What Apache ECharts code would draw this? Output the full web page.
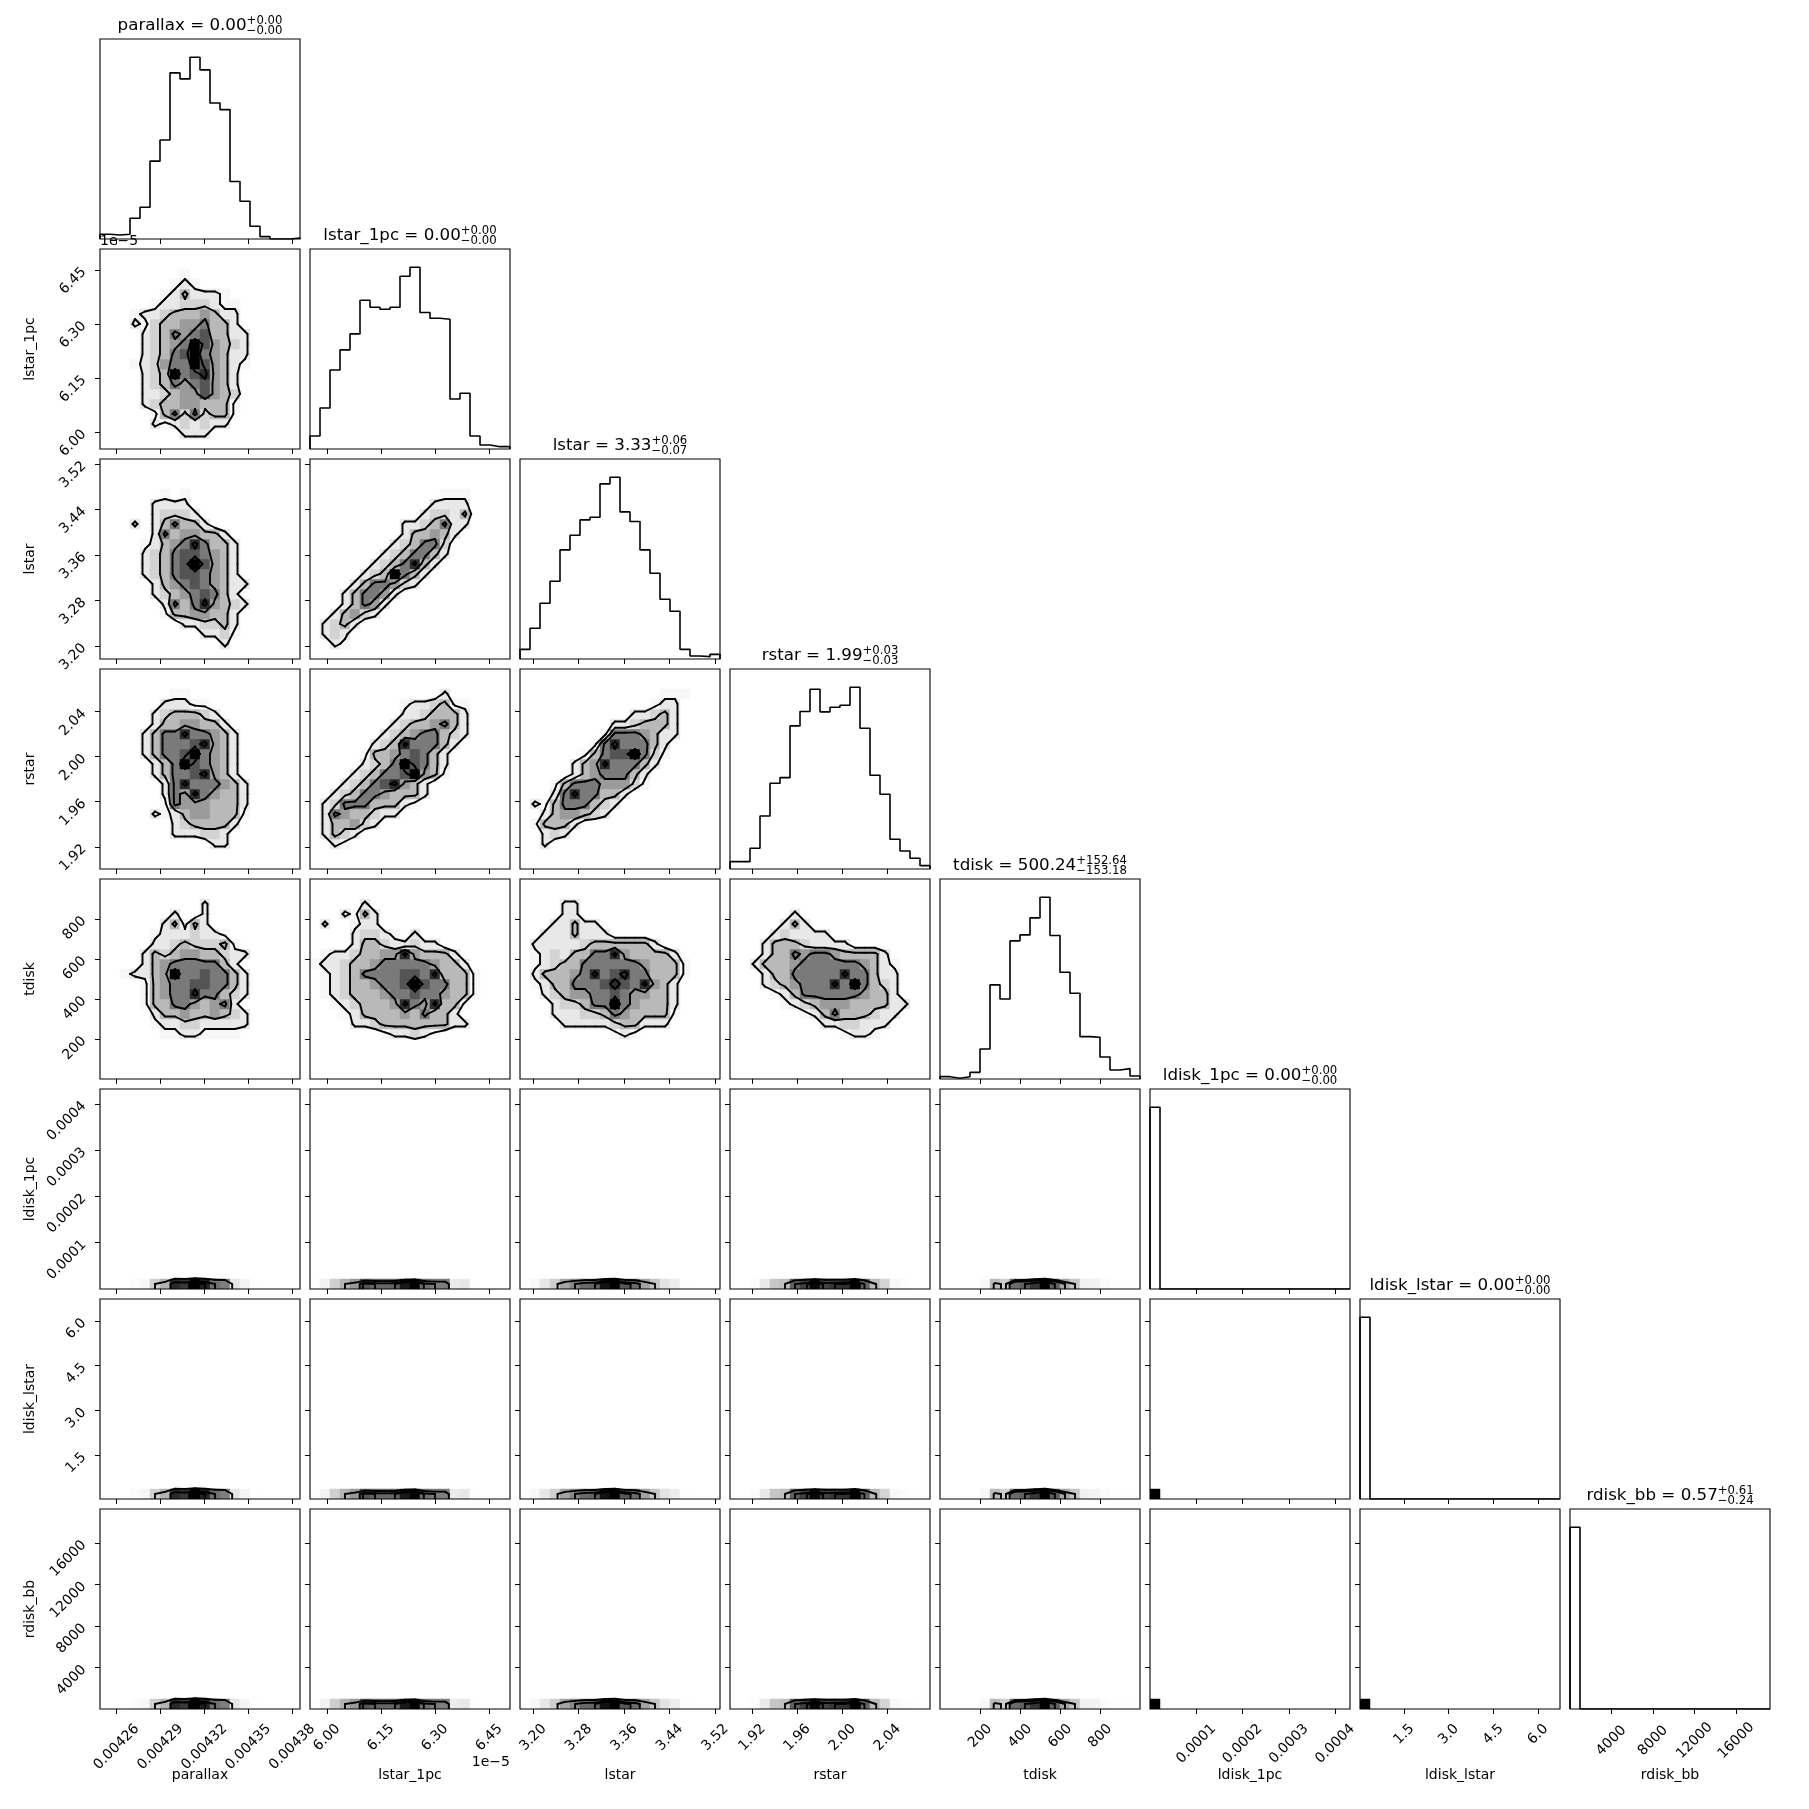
<!DOCTYPE html>
<html>
<head>
<meta charset="utf-8">
<title>corner plot</title>
<script src="https://cdn.jsdelivr.net/npm/echarts@6.0.0/dist/echarts.min.js"></script>
<style>html,body{margin:0;padding:0;background:#fff;}#chart{width:1809px;height:1809px;}</style>
</head>
<body>
<div id="chart"></div>
<script>
// ================= DATA =================
const params = ['parallax','lstar_1pc','lstar','rstar','tdisk','ldisk_1pc','ldisk_lstar','rdisk_bb'];
// axis ranges (lstar_1pc in units of 1e-5)
const axisMin = [0.0042487, 5.953, 3.177, 1.9003, -1, 0, 0.023, 30];
const axisMax = [0.0043853, 6.508, 3.5285, 2.0778, 999, 0.000432, 6.737, 19250];
const tickValues = [
  [0.00426,0.00429,0.00432,0.00435,0.00438],
  [6.00,6.15,6.30,6.45],
  [3.20,3.28,3.36,3.44,3.52],
  [1.92,1.96,2.00,2.04],
  [200,400,600,800],
  [0.0001,0.0002,0.0003,0.0004],
  [1.5,3.0,4.5,6.0],
  [4000,8000,12000,16000]
];
const tickLabels = [
  ['0.00426','0.00429','0.00432','0.00435','0.00438'],
  ['6.00','6.15','6.30','6.45'],
  ['3.20','3.28','3.36','3.44','3.52'],
  ['1.92','1.96','2.00','2.04'],
  ['200','400','600','800'],
  ['0.0001','0.0002','0.0003','0.0004'],
  ['1.5','3.0','4.5','6.0'],
  ['4000','8000','12000','16000']
];
const offsetText = '1e\u22125';
const titleMain = ['parallax = 0.00','lstar_1pc = 0.00','lstar = 3.33','rstar = 1.99','tdisk = 500.24','ldisk_1pc = 0.00','ldisk_lstar = 0.00','rdisk_bb = 0.57'];
const titleSup  = ['+0.00','+0.00','+0.06','+0.03','+152.64','+0.00','+0.00','+0.61'];
const titleSub  = ['\u22120.00','\u22120.00','\u22120.07','\u22120.03','\u2212153.18','\u22120.00','\u22120.00','\u22120.24'];

// 1D histograms (20 bins over the axis range, relative counts)
const hist_parallax    = [14,12,14,62,95,233,296,497,479,544,506,407,387,172,113,38,7,0,0,3];
const hist_lstar_1pc   = [39,123,237,297,345,446,425,419,425,518,545,409,392,389,150,167,39,12,7,7];
const hist_lstar       = [29,92,167,233,327,371,417,425,525,545,441,412,327,257,179,143,29,9,7,14];
const hist_rstar       = [22,22,62,159,257,274,429,472,539,471,485,491,545,422,281,224,89,54,32,10];
const hist_tdisk       = [7,2,7,20,90,282,240,414,432,483,545,430,320,257,127,125,66,27,31,9];
const hist_ldisk_1pc   = [545,0,0,0,0,0,0,0,0,0,0,0,0,0,0,0,0,0,0,0];
const hist_ldisk_lstar = [545,0,0,0,0,0,0,0,0,0,0,0,0,0,0,0,0,0,0,0];
const hist_rdisk_bb    = [545,0,0,0,0,0,0,0,0,0,0,0,0,0,0,0,0,0,0,0];

// 2D histograms (20x20 bins, density 0-9, top row first)
const dens_lstar1pc_parallax = [
"00000000000000000000","00000000000000000000","00000000100000000000","00000001210000000000",
"00000012422210000000","00000122333211000000","00012234445422000000","00021344556442000000",
"00002346567442200000","00002345697543200000","00002346796542200000","00012356697542100000",
"00002349678542000000","00002346567542000000","00002234557543000000","00002344554441000000",
"00000146363441000000","00000212323220000000","00000000222000000000","00000000000000000000"];
const dens_lstar_parallax = [
"00000000000000000000","00000000000000000000","00000000000000000000","00000010100000000000",
"00000222200000000000","00000233320000000000","00020246442000000000","00000264554420000000",
"00001245686442000000","00002346776542000000","00002346797542000000","00002346776542000000",
"00000245676542200000","00000234567642000000","00000026468543200000","00000014455442000000",
"00000000223342000000","00000000002231000000","00000000000020000000","00000000000000000000"];
const dens_lstar_lstar1pc = [
"00000000000000000000","00000000000000000000","00000000000000000000","00000000000001110000",
"00000000000022220000","00000000000233240000","00000000022346220000","00000000024454200000",
"00000000234663000000","00000002346642000000","00000023468420000000","00000234964200000000",
"00002466532000000000","00024665200000000000","00024652000000000000","00245320000000000000",
"02342000000000000000","02320000000000000000","00210000000000000000","00000000000000000000"];
const dens_rstar_parallax = [
"00000000000000000000","00000000000000000000","00000001100000000000","00000022211000000000",
"00000234443200000000","00000244554420000000","00002466866542000000","00002466678542000000",
"00002466796542000000","00000246976542000000","00000246678542000000","00000026866654200000",
"00000026586544200000","00000016555444200000","00000212455444100000","00000002344442000000",
"00000002223320000000","00000000000220000000","00000000000000000000","00000000000000000000"];
const dens_rstar_lstar1pc = [
"00000000000000000000","00000000000000000000","00000000000002000000","00000000012234110000",
"00000000022344420000","00000000234456420000","00000002345664320000","00000023486664200000",
"00000144567642000000","00000234697642000000","00002346679541000000","00023467854200000000",
"00234665444200000000","02366644421000000000","02654432200000000000","02445320000000000000",
"02432000000000000000","00210000000000000000","00000000000000000000","00000000000000000000"];
const dens_rstar_lstar = [
"00000000000000000000","00000000000000000000","00000000000000111000","00000000000001220000",
"00000000000223420000","00000000022344420000","00000000166654220000","00000001686664200000",
"00000014677963100000","00000245866642000000","00000245666420000000","00014666555310000000",
"00026866442000000000","02146664320000000000","00245543200000000000","01444200000000000000",
"00232000000000000000","00200000000000000000","00000000000000000000","00000000000000000000"];
const dens_tdisk_parallax = [
"00000000000000000000","00000000000000000000","00000000002000000000","00000002002000000000",
"00000024142000000000","00000122232210000000","00000223433341000000","00002434554432200000",
"00002456666642000000","00122459667664200000","00001456677664200000","00001456686643200000",
"00001446654562000000","00000244544543200000","00000122332222200000","00000011221111000000",
"00000000000000000000","00000000000000000000","00000000000000000000","00000000000000000000"];
const dens_tdisk_lstar1pc = [
"00000000000000000000","00000000000000000000","00000200000000000000","00021420000000000000",
"02001220000000000000","00002332102000000000","00002443223220000000","01223445585444200000",
"12234456666654420000","01234666677684441000","01234456679766441000","01234445667665441000",
"00123444586584410000","00012444454644200000","00002234444444220000","00000001223210000000",
"00000000000000000000","00000000000000000000","00000000000000000000","00000000000000000000"];
const dens_tdisk_lstar = [
"00000000000000000000","00000000000000000000","00002200000000000000","00002200000000000000",
"00022422000000000000","00222422200000000000","02222234444442000000","01232446685444420000",
"01234466666654441000","02444568678664441000","01244666787685420000","00234556676554420000",
"00023346696544420000","00022233465444410000","00002222234422200000","00000000012100000000",
"00000000000000000000","00000000000000000000","00000000000000000000","00000000000000000000"];
const dens_tdisk_rstar = [
"00000000000000000000","00000000000000000000","00000000000000000000","00000020000000000000",
"00000242000000000000","00002322220000000000","00024443222200000000","00024465665444420000",
"00244456666665421000","00024466666866422000","00023456668696432000","00001246666665442000",
"00000123455544442200","00000001246444322000","00000000022332220000","00000000000122100000",
"00000000000000000000","00000000000000000000","00000000000000000000","00000000000000000000"];
const handLevels = [1.5, 3.5, 5.5, 7.5];
const handMax = 9;

// ================= BUILD =================
const histByParam = [hist_parallax,hist_lstar_1pc,hist_lstar,hist_rstar,hist_tdisk,hist_ldisk_1pc,hist_ldisk_lstar,hist_rdisk_bb];
const handGrids = {
  '1_0': dens_lstar1pc_parallax, '2_0': dens_lstar_parallax, '2_1': dens_lstar_lstar1pc,
  '3_0': dens_rstar_parallax, '3_1': dens_rstar_lstar1pc, '3_2': dens_rstar_lstar,
  '4_0': dens_tdisk_parallax, '4_1': dens_tdisk_lstar1pc, '4_2': dens_tdisk_lstar, '4_3': dens_tdisk_rstar
};
const NB = 20, K = 8, PW = 200, GAP = 10, L0 = 100, T0 = 39;
const FONT = 'DejaVu Sans';

const mctx = document.createElement('canvas').getContext('2d');
function tw(s, px){ mctx.font = px + 'px "' + FONT + '"'; return mctx.measureText(s).width; }

function parseGrid(rows){ // returns H[j][i] with j=0 bottom
  const H = [];
  for (let j = 0; j < NB; j++){ const s = rows[NB-1-j]; H.push(s.split('').map(Number)); }
  return H;
}
function zeros(){ const H=[]; for(let j=0;j<NB;j++){ H.push(new Array(NB).fill(0)); } return H; }

function cornerLevels(H){
  const flat = [].concat(...H).sort((a,b)=>b-a);
  const tot = flat.reduce((s,v)=>s+v,0);
  let cum = 0; const sm = flat.map(v => (cum += v) / tot);
  const qs = [0.5,1,1.5,2].map(s => 1 - Math.exp(-0.5*s*s));
  const V = qs.map(q => { let idx = -1; for (let k=0;k<sm.length;k++){ if (sm[k] <= q) idx = k; } return idx >= 0 ? flat[idx] : flat[0]; });
  V.sort((a,b)=>a-b);
  let guard = 0;
  while (guard++ < 20){ let f=-1; for(let k=1;k<V.length;k++){ if (V[k]===V[k-1]) { f=k-1; break; } } if (f<0) break; V[f] *= (1-1e-4); V.sort((a,b)=>a-b); }
  return V;
}

function padGrid(H){
  let mn = Infinity; H.forEach(r => r.forEach(v => { if (v < mn) mn = v; }));
  const P = []; for (let j=0;j<NB+4;j++){ P.push(new Array(NB+4).fill(mn)); }
  for (let j=0;j<NB;j++) for (let i=0;i<NB;i++) P[j+2][i+2] = H[j][i];
  for (let j=0;j<NB;j++){ P[j+2][1] = H[j][0]; P[j+2][NB+2] = H[j][NB-1]; }
  for (let i=0;i<NB;i++){ P[1][i+2] = H[0][i]; P[NB+2][i+2] = H[NB-1][i]; }
  P[1][1] = H[0][0]; P[1][NB+2] = H[0][NB-1]; P[NB+2][1] = H[NB-1][0]; P[NB+2][NB+2] = H[NB-1][NB-1];
  return P;
}

function clipSeg(x1,y1,x2,y2){
  let t0 = 0, t1 = 1; const dx = x2-x1, dy = y2-y1;
  const p = [-dx, dx, -dy, dy], q = [x1, NB-x1, y1, NB-y1];
  for (let k=0;k<4;k++){
    if (p[k] === 0){ if (q[k] < 0) return null; }
    else { const t = q[k]/p[k]; if (p[k] < 0){ if (t > t1) return null; if (t > t0) t0 = t; } else { if (t < t0) return null; if (t < t1) t1 = t; } }
  }
  return [x1+t0*dx, y1+t0*dy, x1+t1*dx, y1+t1*dy];
}

function marching(P, level){
  const ny = P.length, nx = P[0].length, segs = [];
  for (let j=0;j<ny-1;j++) for (let i=0;i<nx-1;i++){
    const v0=P[j][i], v1=P[j][i+1], v2=P[j+1][i+1], v3=P[j+1][i];
    const c = (v0>level?1:0)|(v1>level?2:0)|(v2>level?4:0)|(v3>level?8:0);
    if (c===0 || c===15) continue;
    const x0=i-1.5, x1=i-0.5, y0=j-1.5, y1=j-0.5;
    const E = [
      () => [x0 + (level-v0)/(v1-v0)*(x1-x0), y0],
      () => [x1, y0 + (level-v1)/(v2-v1)*(y1-y0)],
      () => [x0 + (level-v3)/(v2-v3)*(x1-x0), y1],
      () => [x0, y0 + (level-v0)/(v3-v0)*(y1-y0)]
    ];
    let pairs;
    const ctr = (v0+v1+v2+v3)/4;
    switch (c){
      case 1: case 14: pairs=[[3,0]]; break;
      case 2: case 13: pairs=[[0,1]]; break;
      case 3: case 12: pairs=[[3,1]]; break;
      case 4: case 11: pairs=[[1,2]]; break;
      case 6: case 9: pairs=[[0,2]]; break;
      case 7: case 8: pairs=[[3,2]]; break;
      case 5: pairs = ctr>level ? [[3,2],[0,1]] : [[3,0],[1,2]]; break;
      case 10: pairs = ctr>level ? [[3,0],[1,2]] : [[0,1],[2,3]]; break;
    }
    pairs.forEach(([a,b]) => { const A=E[a](), B=E[b](); const s = clipSeg(A[0],A[1],B[0],B[1]); if (s) segs.push(s); });
  }
  return segs;
}

function densityFor(r,c){
  const key = r + '_' + c;
  if (handGrids[key]) return { H: parseGrid(handGrids[key]), levels: handLevels, hmax: handMax, hand: true };
  const H = zeros();
  if (c >= 5){ H[0][0] = 1; return { H, levels: [], hmax: 1, hand: false }; }
  const h = histByParam[c];
  for (let i=0;i<NB;i++) H[0][i] = h[i];
  return { H, levels: cornerLevels(H), hmax: Math.max(...h), hand: false };
}

const grids=[], xAxes=[], yAxes=[], series=[], graphics=[];
const xLabelMargin = tickLabels.map(ls => { const w = ls.reduce((s,l)=>s+tw(l,14),0)/ls.length; return 14 + (w + 10)*0.3536; });
function fmtFor(idx){ return function(v){ const tv = tickValues[idx]; let best=0, bd=Infinity; tv.forEach((t,k)=>{ const d=Math.abs(t-v); if (d<bd){bd=d; best=k;} }); return tickLabels[idx][best]; }; }

let gi = 0;
for (let r=0;r<K;r++){
  for (let c=0;c<=r;c++){
    const left = L0 + c*(PW+GAP), top = T0 + r*(PW+GAP);
    grids.push({ left, top, width: PW, height: PW, containLabel: false, outerBoundsMode: 'none', show: false });
    xAxes.push({
      gridIndex: gi, type: 'value', min: axisMin[c], max: axisMax[c],
      axisLine: { show: false }, splitLine: { show: false },
      axisTick: { show: true, length: 5, inside: false, lineStyle: { color: '#000', width: 1 }, customValues: tickValues[c] },
      axisLabel: { show: r === K-1, customValues: tickValues[c], formatter: fmtFor(c), rotate: 45, align: 'center', verticalAlign: 'middle',
                   margin: xLabelMargin[c], fontSize: 14, fontFamily: FONT, color: '#000' }
    });
    if (r === c){
      const h = histByParam[c];
      const hmax = Math.max(...h);
      yAxes.push({ gridIndex: gi, type: 'value', min: 0, max: 1.1*hmax, axisLine:{show:false}, splitLine:{show:false}, axisTick:{show:false}, axisLabel:{show:false} });
      const bw = (axisMax[c]-axisMin[c])/NB;
      const pts = [[axisMin[c], 0]];
      for (let i=0;i<NB;i++){ pts.push([axisMin[c]+i*bw, h[i]]); pts.push([axisMin[c]+(i+1)*bw, h[i]]); }
      pts.push([axisMax[c], 0]);
      series.push({ type: 'line', xAxisIndex: gi, yAxisIndex: gi, data: pts, symbol: 'none', silent: true, clip: true,
                    lineStyle: { color: '#000', width: 1.6 }, z: 3 });
      // title
      const cx = left + PW/2;
      const wm = tw(titleMain[c], 16.7), ws = Math.max(tw(titleSup[c], 11.7), tw(titleSub[c], 11.7));
      const x0 = cx - (wm + ws)/2;
      graphics.push({ type:'text', x: x0, y: top - 13.3, z: 100, style: { text: titleMain[c], fontSize: 16.7, fontFamily: FONT, fill:'#000', align:'left', verticalAlign:'middle' } });
      graphics.push({ type:'text', x: x0 + wm, y: top - 18.3, z: 100, style: { text: titleSup[c], fontSize: 11.7, fontFamily: FONT, fill:'#000', align:'left', verticalAlign:'middle' } });
      graphics.push({ type:'text', x: x0 + wm, y: top - 7.8, z: 100, style: { text: titleSub[c], fontSize: 11.7, fontFamily: FONT, fill:'#000', align:'left', verticalAlign:'middle' } });
    } else {
      yAxes.push({
        gridIndex: gi, type: 'value', min: axisMin[r], max: axisMax[r],
        axisLine: { show: false }, splitLine: { show: false },
        axisTick: { show: true, length: 5, inside: false, lineStyle: { color: '#000', width: 1 }, customValues: tickValues[r] },
        axisLabel: { show: c === 0, customValues: tickValues[r], formatter: fmtFor(r), rotate: 45, align: 'right', verticalAlign: 'middle',
                     margin: 16, fontSize: 14, fontFamily: FONT, color: '#000' }
      });
      const D = densityFor(r,c);
      const xr0 = axisMin[c], xs = (axisMax[c]-axisMin[c])/NB, yr0 = axisMin[r], ys = (axisMax[r]-axisMin[r])/NB;
      const cells = [];
      for (let j=0;j<NB;j++) for (let i=0;i<NB;i++){
        const v = D.H[j][i]; if (v <= 0) continue;
        let g = Math.min(1, v / D.hmax);
        if (D.hand) g = Math.pow(g, 0.8);
        const grey = Math.round(255*(1 - g*g));
        cells.push([xr0+i*xs, yr0+j*ys, xr0+(i+1)*xs, yr0+(j+1)*ys, grey]);
      }
      series.push({ type:'custom', xAxisIndex: gi, yAxisIndex: gi, data: cells, silent: true, clip: true, z: 1,
        encode: { x: [0,2], y: [1,3] },
        renderItem: function(p, api){
          const a = api.coord([api.value(0), api.value(1)]), b = api.coord([api.value(2), api.value(3)]);
          const gv = api.value(4);
          return { type:'rect', shape:{ x: Math.min(a[0],b[0]), y: Math.min(a[1],b[1]), width: Math.abs(b[0]-a[0]), height: Math.abs(b[1]-a[1]) },
                   style:{ fill: 'rgb('+gv+','+gv+','+gv+')', stroke: 'rgb('+gv+','+gv+','+gv+')', lineWidth: 0.5 } };
        }
      });
      if (D.levels.length){
        const P = padGrid(D.H);
        const segs = [];
        D.levels.forEach(lv => { marching(P, lv).forEach(s => segs.push([xr0+s[0]*xs, yr0+s[1]*ys, xr0+s[2]*xs, yr0+s[3]*ys])); });
        series.push({ type:'custom', xAxisIndex: gi, yAxisIndex: gi, data: segs, silent: true, clip: true, z: 4,
          encode: { x: [0,2], y: [1,3] },
          renderItem: function(p, api){
            const a = api.coord([api.value(0), api.value(1)]), b = api.coord([api.value(2), api.value(3)]);
            return { type:'line', shape:{ x1:a[0], y1:a[1], x2:b[0], y2:b[1] }, style:{ stroke:'#000', lineWidth: 1.9, lineCap:'round' } };
          }
        });
      }
    }
    graphics.push({ type:'rect', z: 100, shape:{ x: left, y: top, width: PW, height: PW }, style:{ fill: 'none', stroke: '#000', lineWidth: 1.1 } });
    gi++;
  }
}
// axis names
for (let c=0;c<K;c++){
  graphics.push({ type:'text', x: L0 + c*(PW+GAP) + PW/2, y: T0 + K*PW + (K-1)*GAP + 66, z: 100,
    style:{ text: params[c], fontSize: 14, fontFamily: FONT, fill:'#000', align:'center', verticalAlign:'middle' } });
}
for (let r=1;r<K;r++){
  graphics.push({ type:'text', x: 30.5, y: T0 + r*(PW+GAP) + PW/2, rotation: Math.PI/2, z: 100,
    style:{ text: params[r], fontSize: 14, fontFamily: FONT, fill:'#000', align:'center', verticalAlign:'middle' } });
}
// offset texts for lstar_1pc (x1e-5)
graphics.push({ type:'text', x: L0 + 1*(PW+GAP) + PW, y: T0 + K*PW + (K-1)*GAP + 53, z: 100,
  style:{ text: offsetText, fontSize: 14, fontFamily: FONT, fill:'#000', align:'right', verticalAlign:'middle' } });
graphics.push({ type:'text', x: L0, y: T0 + 1*(PW+GAP) - 7.5, z: 100,
  style:{ text: offsetText, fontSize: 14, fontFamily: FONT, fill:'#000', align:'left', verticalAlign:'middle' } });

const chart = echarts.init(document.getElementById('chart'), null, { renderer: 'canvas', width: 1809, height: 1809 });
chart.setOption({
  backgroundColor: '#ffffff',
  animation: false,
  grid: grids, xAxis: xAxes, yAxis: yAxes, series: series,
  graphic: { elements: graphics }
});
</script>
</body>
</html>
